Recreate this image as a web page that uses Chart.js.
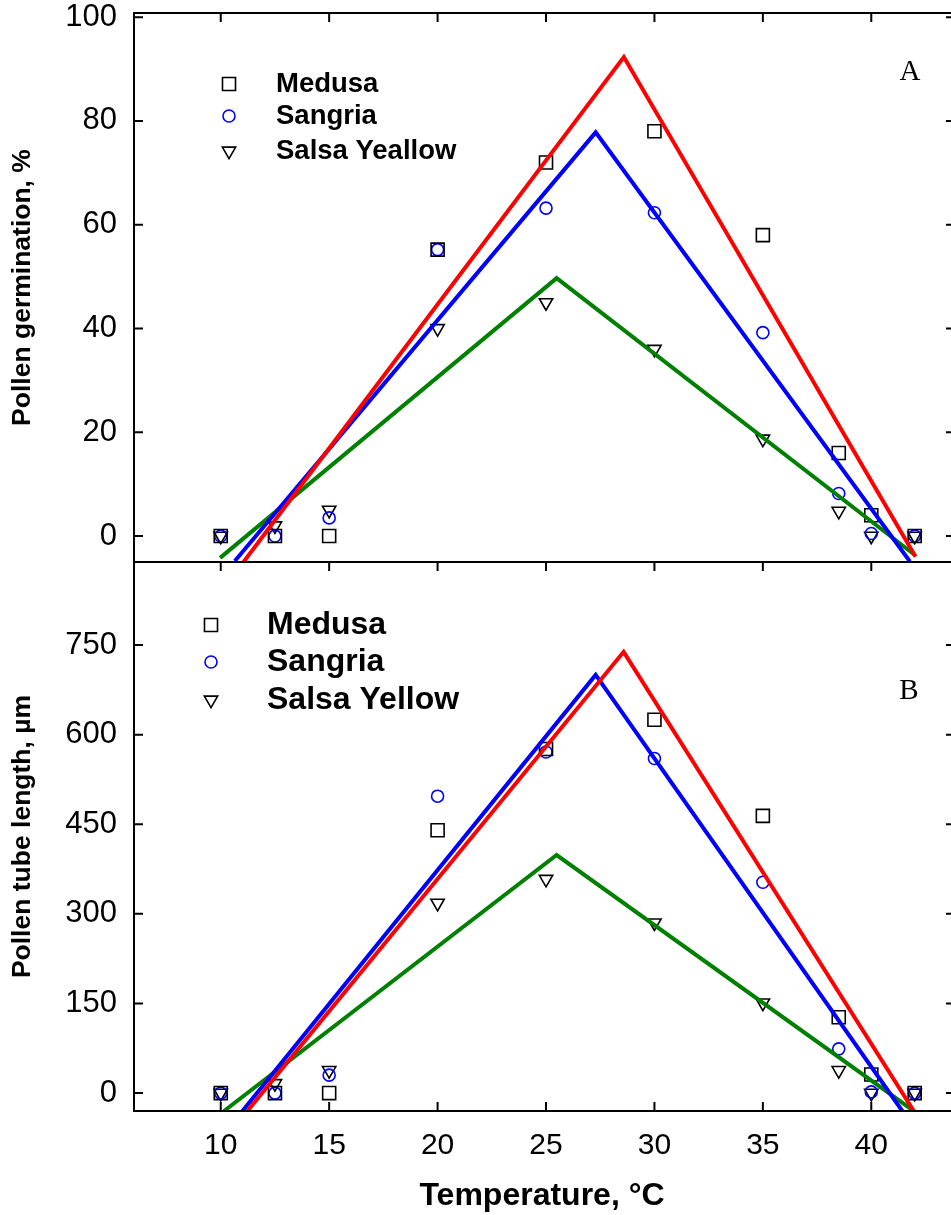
<!DOCTYPE html>
<html>
<head>
<meta charset="utf-8">
<script src="https://cdn.jsdelivr.net/npm/chart.js@4.4.1/dist/chart.umd.min.js"></script>
<style>
  body { margin: 0; background: #fff; }
  #wrap { position: relative; width: 951px; height: 1215px; overflow: hidden; }
  canvas { position: absolute; left: 0; }
  #chart-a { top: 0; }
  #chart-b { top: 549px; }
</style>
</head>
<body>
<div id="wrap">
  <canvas id="chart-a" width="951" height="575"></canvas>
  <canvas id="chart-b" width="951" height="666"></canvas>
</div>
<script>
// temperatures (deg C) where pollen was tested
var temps = [10, 12.5, 15, 20, 25, 30, 35, 38.5, 40, 42];
var xTicks = [10, 15, 20, 25, 30, 35, 40];

// panel A: pollen germination, %
var germMedusa  = [0, 0, 0, 55.2, 72, 78, 58, 16, 4, 0];
var germSangria = [0, 0, 3.5, 55.2, 63.2, 62.3, 39.2, 8.2, 0.5, 0];
var germSalsa   = [0, 2, 5, 40, 45, 36, 18.7, 4.8, 0, 0];
var germTicks   = [0, 20, 40, 60, 80, 100];

// panel A fitted lines (start, optimum, end)
var germFitMedusaX  = [11.05, 28.59, 42.04];
var germFitMedusaY  = [-5, 92.3, -4.0];
var germFitSangriaX = [10.65, 27.29, 41.78];
var germFitSangriaY = [-4.8, 77.8, -4.9];
var germFitSalsaX   = [9.97, 25.49, 42.04];
var germFitSalsaY   = [-4.2, 49.7, -3.75];

// panel B: pollen tube length, um
var tubeMedusa  = [0, 0, 0, 440, 576, 625, 464, 127, 31, 0];
var tubeSangria = [0, 0, 30, 497, 571, 560, 353, 74, 2, 0];
var tubeSalsa   = [0, 16, 38, 318, 358, 285, 151, 38, 0, 0];
var tubeTicks   = [0, 150, 300, 450, 600, 750];

// panel B fitted lines
var tubeFitMedusaX  = [11.23, 28.58, 41.96];
var tubeFitMedusaY  = [-30, 738.6, -30];
var tubeFitSangriaX = [11.0, 27.29, 41.43];
var tubeFitSangriaY = [-30, 700, -30];
var tubeFitSalsaX   = [10.15, 25.49, 41.96];
var tubeFitSalsaY   = [-30, 398.5, -30];

var FONT = "'Liberation Sans', Arial, sans-serif";
Chart.defaults.font.family = FONT;
Chart.defaults.color = '#000';

function pts(xs, ys) {
  return xs.map(function(x, i) { return {x: x, y: ys[i]}; });
}

function markerSet(label, ys, style, color, radius, rot) {
  return {
    label: label,
    data: pts(temps, ys),
    showLine: false,
    pointStyle: style,
    pointRadius: radius,
    pointRotation: rot || 0,
    pointBorderWidth: 1.6,
    pointBorderColor: color,
    pointBackgroundColor: 'rgba(0,0,0,0)',
    borderColor: color,
    order: 1
  };
}

function fitSet(xs, ys, color) {
  return {
    label: 'fit',
    data: pts(xs, ys),
    showLine: true,
    borderColor: color,
    borderWidth: 4,
    pointRadius: 0,
    tension: 0,
    fill: false,
    order: 0
  };
}

function noPad(s) {
  s.paddingTop = 0; s.paddingBottom = 0; s.paddingLeft = 0; s.paddingRight = 0;
}

function drawMarker(ctx, style, x, y, r, rot) {
  ctx.beginPath();
  if (style === 'rect') {
    var h = r * Math.SQRT1_2;
    ctx.rect(x - h, y - h, 2 * h, 2 * h);
  } else if (style === 'circle') {
    ctx.arc(x, y, r, 0, Math.PI * 2);
  } else if (style === 'triangle') {
    var a = (rot || 0) * Math.PI / 180;
    for (var k = 0; k < 3; k++) {
      var px = x + Math.sin(a) * r, py = y - Math.cos(a) * r;
      if (k === 0) ctx.moveTo(px, py); else ctx.lineTo(px, py);
      a += Math.PI * 2 / 3;
    }
    ctx.closePath();
  }
  ctx.stroke();
}

// frame, inward tick marks, legend and panel letter
var panelDeco = {
  id: 'panelDeco',
  afterDraw: function(chart, args, o) {
    var ctx = chart.ctx, a = chart.chartArea;
    var xs = chart.scales.x, ys = chart.scales.y;
    ctx.save();
    ctx.strokeStyle = '#000';
    ctx.lineWidth = 2;
    ctx.beginPath();
    ctx.moveTo(a.left, a.top - 1); ctx.lineTo(a.left, a.bottom + 1);
    ctx.moveTo(a.left - 1, a.top); ctx.lineTo(a.right + 1, a.top);
    ctx.moveTo(a.left - 1, a.bottom); ctx.lineTo(a.right + 1, a.bottom);
    xTicks.forEach(function(v) {
      var px = xs.getPixelForValue(v);
      ctx.moveTo(px, a.top); ctx.lineTo(px, a.top + 9);
      if (o.bottomTicks) { ctx.moveTo(px, a.bottom); ctx.lineTo(px, a.bottom - 9); }
    });
    ys.ticks.forEach(function(t) {
      var py = ys.getPixelForValue(t.value);
      ctx.moveTo(a.left, py); ctx.lineTo(a.left + 9, py);
      ctx.moveTo(a.right + 1, py); ctx.lineTo(a.right - 4, py);
    });
    ctx.stroke();

    // legend built from the marker datasets
    ctx.font = o.legendFont;
    ctx.textBaseline = 'middle';
    ctx.textAlign = 'left';
    var row = 0;
    chart.data.datasets.forEach(function(ds) {
      if (ds.showLine) return;
      var y = o.legendY[row++];
      ctx.strokeStyle = ds.pointBorderColor;
      ctx.lineWidth = 1.6;
      drawMarker(ctx, ds.pointStyle, o.legendX, y, ds.pointRadius, ds.pointRotation);
      ctx.fillStyle = '#000';
      ctx.fillText(ds.label, o.legendTextX, y);
    });

    ctx.font = "29px 'Liberation Serif', 'Times New Roman', serif";
    ctx.textAlign = 'center';
    ctx.fillText(o.letter, o.letterPos[0], o.letterPos[1]);
    ctx.restore();
  }
};

window.onload = function() {
  var canvasA = document.getElementById('chart-a');
  new Chart(canvasA, {
    type: 'scatter',
    data: {
      datasets: [
        markerSet('Medusa', germMedusa, 'rect', '#000000', 9.2),
        markerSet('Sangria', germSangria, 'circle', '#0000ff', 6),
        markerSet('Salsa Yeallow', germSalsa, 'triangle', '#000000', 7.7, 180),
        fitSet(germFitMedusaX, germFitMedusaY, '#ff0000'),
        fitSet(germFitSangriaX, germFitSangriaY, '#0000ff'),
        fitSet(germFitSalsaX, germFitSalsaY, '#008000')
      ]
    },
    options: {
      responsive: false,
      animation: false,
      devicePixelRatio: 1,
      layout: { autoPadding: false, padding: { top: 13, bottom: 13, left: 0, right: 1 } },
      scales: {
        x: {
          type: 'linear', min: 6, max: 43.63,
          ticks: { display: false },
          grid: { display: false },
          border: { display: false },
          afterFit: function(s) { s.height = 0; noPad(s); }
        },
        y: {
          min: -5, max: 100.8,
          afterBuildTicks: function(s) { s.ticks = germTicks.map(function(v) { return {value: v}; }); },
          afterFit: function(s) { s.width = 134; noPad(s); },
          grid: { display: false },
          border: { display: false },
          ticks: { color: '#000', font: { size: 31 }, padding: 9 },
          title: {
            display: true, text: 'Pollen germination, %', color: '#000',
            font: { size: 26.5, weight: 'bold' }, padding: { top: 7, bottom: 0 }
          }
        }
      },
      plugins: {
        legend: { display: false },
        tooltip: { enabled: false },
        panelDeco: {
          letter: 'A', letterPos: [910, 72], bottomTicks: false,
          legendX: 229, legendTextX: 276, legendY: [84, 116, 151],
          legendFont: 'bold 27.5px ' + FONT
        }
      }
    },
    plugins: [panelDeco]
  });

  var canvasB = document.getElementById('chart-b');
  new Chart(canvasB, {
    type: 'scatter',
    data: {
      datasets: [
        markerSet('Medusa', tubeMedusa, 'rect', '#000000', 9.2),
        markerSet('Sangria', tubeSangria, 'circle', '#0000ff', 6),
        markerSet('Salsa Yellow', tubeSalsa, 'triangle', '#000000', 7.7, 180),
        fitSet(tubeFitMedusaX, tubeFitMedusaY, '#ff0000'),
        fitSet(tubeFitSangriaX, tubeFitSangriaY, '#0000ff'),
        fitSet(tubeFitSalsaX, tubeFitSalsaY, '#008000')
      ]
    },
    options: {
      responsive: false,
      animation: false,
      devicePixelRatio: 1,
      layout: { autoPadding: false, padding: { top: 13, bottom: 0, left: 0, right: 1 } },
      scales: {
        x: {
          type: 'linear', min: 6, max: 43.63,
          afterBuildTicks: function(s) { s.ticks = xTicks.map(function(v) { return {value: v}; }); },
          afterFit: function(s) { s.height = 104; noPad(s); },
          grid: { display: false },
          border: { display: false },
          ticks: { color: '#000', font: { size: 30 }, padding: 9, maxRotation: 0, autoSkip: false },
          title: {
            display: true, text: 'Temperature, °C', color: '#000',
            font: { size: 32, weight: 'bold' }, padding: { top: 0, bottom: 0 }
          }
        },
        y: {
          min: -30, max: 889,
          afterBuildTicks: function(s) { s.ticks = tubeTicks.map(function(v) { return {value: v}; }); },
          afterFit: function(s) { s.width = 134; noPad(s); },
          grid: { display: false },
          border: { display: false },
          ticks: { color: '#000', font: { size: 31 }, padding: 9 },
          title: {
            display: true, text: 'Pollen tube length, µm', color: '#000',
            font: { size: 26.5, weight: 'bold' }, padding: { top: 7, bottom: 0 }
          }
        }
      },
      plugins: {
        legend: { display: false },
        tooltip: { enabled: false },
        panelDeco: {
          letter: 'B', letterPos: [909, 142], bottomTicks: true,
          legendX: 211, legendTextX: 267, legendY: [76, 113, 151],
          legendFont: 'bold 32px ' + FONT
        }
      }
    },
    plugins: [panelDeco]
  });
};
</script>
</body>
</html>
